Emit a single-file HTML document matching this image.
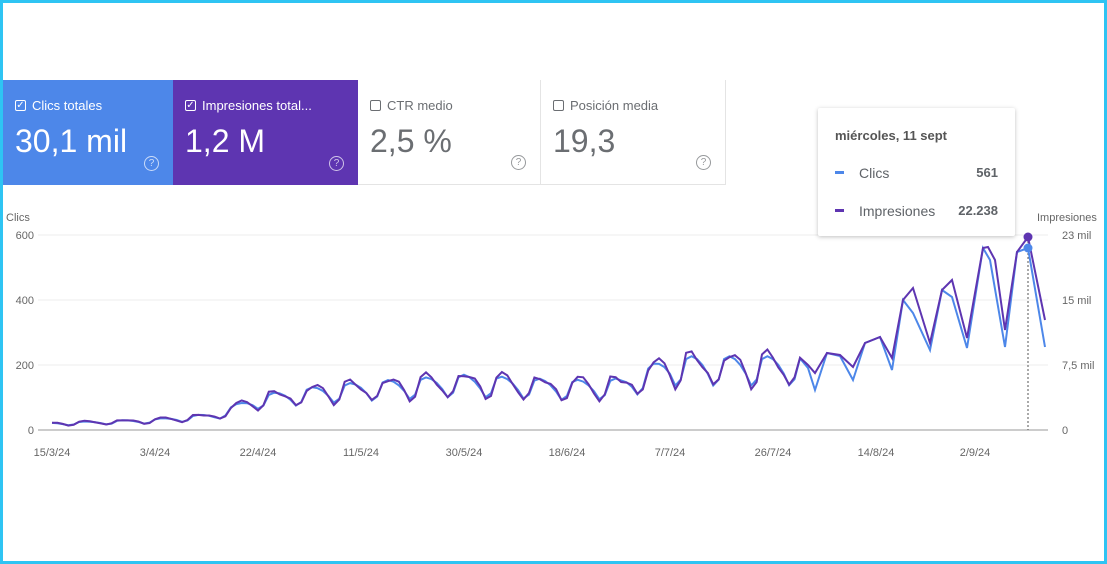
<!DOCTYPE html>
<html><head><meta charset="utf-8"><style>
body{margin:0;width:1107px;height:564px;overflow:hidden;background:#fff;font-family:"Liberation Sans",sans-serif;}
.frame{position:absolute;left:0;top:0;width:1101px;height:558px;border:3px solid #2ec4f3;border-right-width:4px;}
.card{position:absolute;top:80px;height:105px;box-sizing:border-box;padding:18px 12px;}
.card .t{font-size:13px;display:flex;align-items:center;gap:6px}
.cb{width:11px;height:11px;border:1.5px solid currentColor;border-radius:2px;box-sizing:border-box;position:relative;font-size:10px;line-height:9px;text-align:center}
.card .v{font-size:32px;margin-top:10px;font-weight:300}
.q{position:absolute;right:14px;bottom:14px;width:13px;height:13px;border:1px solid currentColor;border-radius:50%;font-size:10px;line-height:13px;text-align:center;opacity:.7}
.ax{font-size:11px;fill:#666}
</style></head><body>
<div class="frame"></div>
<div class="card" style="left:3px;width:170px;background:#4d87e9;color:#fff"><div class="t"><span class="cb">✓</span>Clics totales</div><div class="v">30,1 mil</div><div class="q">?</div></div>
<div class="card" style="left:173px;width:185px;background:#5e35b1;color:#fff"><div class="t"><span class="cb">✓</span>Impresiones total...</div><div class="v">1,2 M</div><div class="q">?</div></div>
<div class="card" style="left:358px;width:183px;color:#6b6e72;border-right:1px solid #e4e4e4;border-bottom:1px solid #e4e4e4"><div class="t"><span class="cb"></span>CTR medio</div><div class="v">2,5 %</div><div class="q">?</div></div>
<div class="card" style="left:541px;width:185px;color:#6b6e72;border-right:1px solid #e4e4e4;border-bottom:1px solid #e4e4e4"><div class="t"><span class="cb"></span>Posición media</div><div class="v">19,3</div><div class="q">?</div></div>
<svg width="1107" height="564" style="position:absolute;left:0;top:0">
<g stroke="#ececec"><line x1="38" x2="1048" y1="235" y2="235"/><line x1="38" x2="1048" y1="300" y2="300"/><line x1="38" x2="1048" y1="365" y2="365"/></g>
<line x1="38" x2="1048" y1="430" y2="430" stroke="#999"/>
<text class="ax" x="6" y="221">Clics</text>
<g class="ax" text-anchor="end"><text x="34" y="239">600</text><text x="34" y="304">400</text><text x="34" y="369">200</text><text x="34" y="434">0</text></g>
<text class="ax" x="1037" y="221">Impresiones</text>
<g class="ax"><text x="1062" y="239">23 mil</text><text x="1062" y="304">15 mil</text><text x="1062" y="369">7,5 mil</text><text x="1062" y="434">0</text></g>
<g class="ax" text-anchor="middle"><text x="52" y="456">15/3/24</text><text x="155" y="456">3/4/24</text><text x="258" y="456">22/4/24</text><text x="361" y="456">11/5/24</text><text x="464" y="456">30/5/24</text><text x="567" y="456">18/6/24</text><text x="670" y="456">7/7/24</text><text x="773" y="456">26/7/24</text><text x="876" y="456">14/8/24</text><text x="975" y="456">2/9/24</text></g>
<line x1="1028" x2="1028" y1="237" y2="430" stroke="#555" stroke-dasharray="2,2"/>
<polyline id="b" fill="none" stroke="#4d87e9" stroke-width="2"/>
<polyline id="p" fill="none" stroke="#5e35b1" stroke-width="2"/>
<circle cx="1028" cy="248" r="4.5" fill="#4d87e9"/>
<circle cx="1028" cy="237" r="4.5" fill="#5e35b1"/>
</svg>
<div style="position:absolute;left:818px;top:108px;width:197px;height:128px;background:#fff;box-shadow:0 1px 4px rgba(0,0,0,.25);border-radius:2px;font-size:14px;color:#5f6368">
<div style="position:absolute;left:17px;top:20px;font-size:13px;font-weight:bold;color:#555">miércoles, 11 sept</div>
<div style="position:absolute;left:17px;top:63px;width:9px;height:3px;background:#4d87e9"></div>
<div style="position:absolute;left:41px;top:57px">Clics</div><div style="position:absolute;right:17px;top:57px;font-weight:bold;font-size:13px">561</div>
<div style="position:absolute;left:17px;top:101px;width:9px;height:3px;background:#5e35b1"></div>
<div style="position:absolute;left:41px;top:95px">Impresiones</div><div style="position:absolute;right:17px;top:95px;font-weight:bold;font-size:13px">22.238</div>
</div>
<script>
var tr=[[0,20],[10,25],[19,30],[30,45],[38,95],[50,120],[57,130],[76,150],[95,135],[105,140],[114,200],[133,200],[145,205],[150,220]];
function trend(d){for(var i=1;i<tr.length;i++){if(d<=tr[i][0]){var a=tr[i-1],b=tr[i];return a[1]+(b[1]-a[1])*(d-a[0])/(b[0]-a[0]);}}return 220;}
var pat=[1.1,1.15,1.1,1.0,0.85,0.65,0.75];
var bp=[],pp=[];
for(var d=0;d<=138;d++){var t=trend(d),f=pat[(d+2)%7];var x=52+d*5.42;
var vb=t*(1+(f-1)*0.9),vp=t*(1+(f-1)*1.0)*(1+0.06*Math.sin(d*1.3));
bp.push(x.toFixed(1)+","+(430-vb*0.325).toFixed(1));pp.push(x.toFixed(1)+","+(430-vp*0.325*1.02).toFixed(1));}
var mb=[[808,368],[815,390],[827,353],[840,356],[853,380],[865,343],[880,337],[892,370],[903,300],[913,313],[930,350],[942,290],[952,297],[967,348],[983,248],[990,260],[1005,347],[1017,252],[1028,248],[1045,347]];
var mp=[[808,365],[815,373],[827,353],[840,355],[853,367],[865,343],[880,337],[892,358],[903,300],[913,288],[930,343],[942,290],[952,280],[967,338],[983,248],[988,247],[995,260],[1005,330],[1017,252],[1028,237],[1045,320]];
mb.forEach(function(a){bp.push(a.join(","))});mp.forEach(function(a){pp.push(a.join(","))});
document.getElementById("b").setAttribute("points",bp.join(" "));
document.getElementById("p").setAttribute("points",pp.join(" "));
</script>
</body></html>
